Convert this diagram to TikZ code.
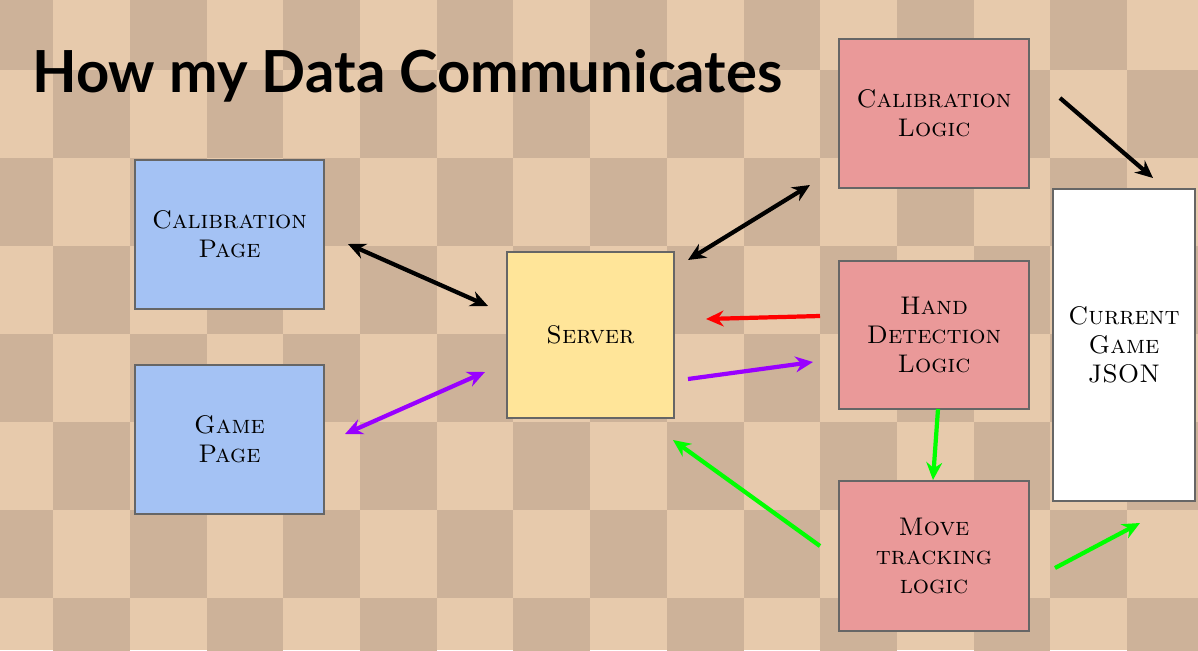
\documentclass[tikz,border=0pt]{standalone}
\usepackage{fontspec}
\newfontfamily\titlefont{Lato}
\usetikzlibrary{arrows.meta}
\definecolor{lightw}{HTML}{E7CAAC}
\definecolor{darkw}{HTML}{CDB299}
\definecolor{bluebox}{HTML}{A4C2F4}
\definecolor{yelbox}{HTML}{FFE599}
\definecolor{redbox}{HTML}{EA9999}
\definecolor{purp}{HTML}{9900FF}
\definecolor{grn}{HTML}{00FF00}
\begin{document}
\begin{tikzpicture}[x=0.02cm,y=-0.02cm,
  box/.style={draw=black!60,line width=0.6pt,align=center,font=\fontsize{14.5}{16.5}\selectfont\scshape},
  arr/.style={line width=2.4pt,-{Stealth[length=10pt,width=9pt]}},
  barr/.style={line width=2.4pt,{Stealth[length=10pt,width=9pt]}-{Stealth[length=10pt,width=9pt]}}]
\useasboundingbox (0,0) rectangle (1198,650);
\begin{scope}
\clip (0,0) rectangle (1198,650);
\fill[lightw] (0,0) rectangle (1198,650);
\foreach \i in {0,...,16}{
  \foreach \j in {0,...,7}{
    \pgfmathtruncatemacro{\p}{mod(\i+\j,2)}
    \ifnum\p=0
      \fill[darkw] ({-23.5+\i*76.7},{-18+\j*88}) rectangle ++(76.7,88);
    \fi
  }}
\end{scope}
\node[anchor=west,font=\titlefont\bfseries\fontsize{33}{36}\selectfont] (title) at (26,76) {How my Data Communicates};
\node[box,fill=bluebox,minimum width=189*0.02cm,minimum height=149*0.02cm] (cp) at (229.5,234.5) {Calibration\\Page};
\node[box,fill=bluebox,minimum width=189*0.02cm,minimum height=149*0.02cm] (gp) at (229.5,439.5) {Game\\Page};
\node[box,fill=yelbox,minimum width=167*0.02cm,minimum height=166*0.02cm] (srv) at (590.5,335) {Server};
\node[box,fill=redbox,minimum width=190*0.02cm,minimum height=149*0.02cm] (cl) at (934,113.5) {Calibration\\Logic};
\node[box,fill=redbox,minimum width=190*0.02cm,minimum height=148*0.02cm] (hd) at (934,335) {Hand\\Detection\\Logic};
\node[box,fill=redbox,minimum width=190*0.02cm,minimum height=150*0.02cm] (mt) at (934,556) {Move\\tracking\\logic};
\node[box,fill=white,minimum width=142*0.02cm,minimum height=312*0.02cm] (js) at (1124,345) {Current\\Game\\JSON};
\coordinate (a1) at (348,244); \coordinate (a2) at (488,306);
\coordinate (b1) at (345,434); \coordinate (b2) at (485,372);
\coordinate (c1) at (688,260); \coordinate (c2) at (810,185);
\coordinate (d1) at (820,316); \coordinate (d2) at (706,319);
\coordinate (e1) at (688,379); \coordinate (e2) at (813,362);
\coordinate (f1) at (820,546); \coordinate (f2) at (673,440);
\coordinate (g1) at (938,409); \coordinate (g2) at (933,480);
\coordinate (h1) at (1055,568); \coordinate (h2) at (1140,523);
\coordinate (k1) at (1060,98); \coordinate (k2) at (1153,178);
\draw[barr,black] (a1) -- (a2);
\draw[barr,purp] (b1) -- (b2);
\draw[barr,black] (c1) -- (c2);
\draw[arr,red] (d1) -- (d2);
\draw[arr,purp] (e1) -- (e2);
\draw[arr,grn] (f1) -- (f2);
\draw[arr,grn] (g1) -- (g2);
\draw[arr,grn] (h1) -- (h2);
\draw[arr,black] (k1) -- (k2);
\end{tikzpicture}
\end{document}
